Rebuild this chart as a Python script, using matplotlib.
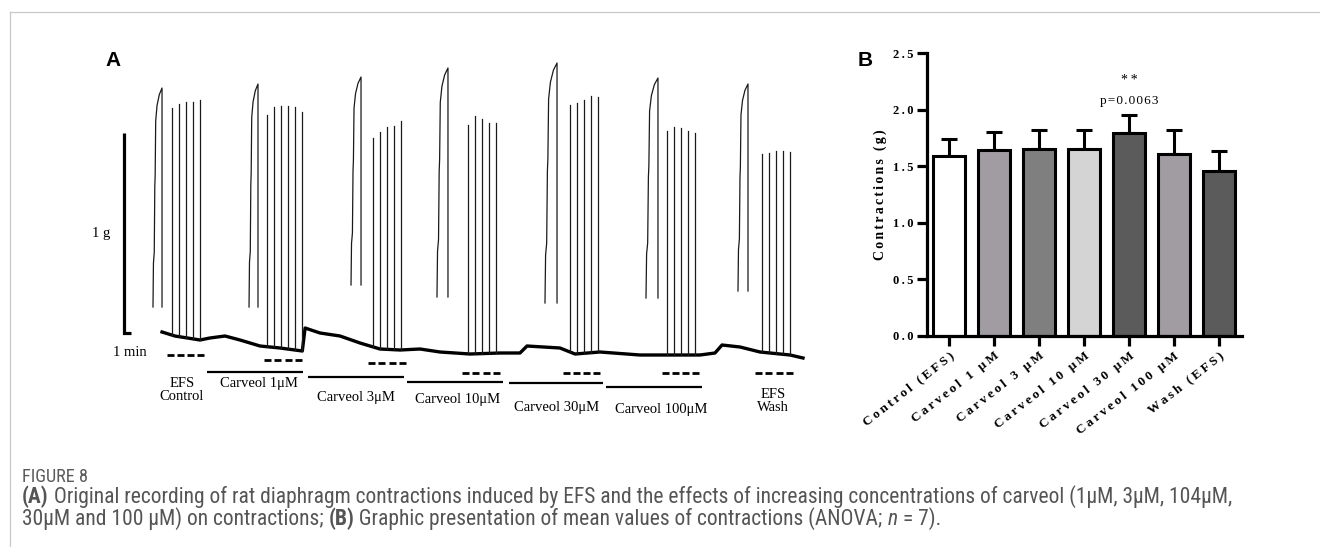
import matplotlib
matplotlib.use("Agg")
import matplotlib.pyplot as plt
import numpy as np
from matplotlib import font_manager as fm
from matplotlib.lines import Line2D

W, H = 1320, 547

# ---------------- Panel B data ----------------
groups = ["Control (EFS)", "Carveol 1 μM", "Carveol 3 μM", "Carveol 10 μM",
          "Carveol 30 μM", "Carveol 100 μM", "Wash (EFS)"]
means = [1.59, 1.64, 1.655, 1.655, 1.79, 1.61, 1.455]
sems = [0.15, 0.16, 0.165, 0.165, 0.16, 0.21, 0.175]
bar_colors = ["#ffffff", "#a09ca2", "#7f7f7f", "#d4d4d4", "#5b5b5b", "#a09ca2", "#5b5b5b"]
y_ticks = [0.0, 0.5, 1.0, 1.5, 2.0, 2.5]
y_label = "Contractions (g)"
sig_index = 4
sig_stars = "**"
sig_p = "p=0.0063"

# ---------------- Panel A data (time in min, force in g) ----------------
tet_start = [7.57, 21.29, 35.86, 48.14, 63.57, 78.0, 91.14]
tet_peak_time = [8.86, 22.57, 37.29, 49.71, 65.29, 79.71, 92.57]
tet_bottom = [0.13, 0.13, 0.24, 0.18, 0.15, 0.175, 0.21]
tet_peak = [1.225, 1.245, 1.28, 1.325, 1.35, 1.275, 1.245]
twitch_first = [10.29, 23.86, 39.0, 52.57, 67.14, 81.0, 94.57]
twitch_tops = [
    [1.125, 1.145, 1.155, 1.155, 1.165],
    [1.09, 1.13, 1.135, 1.135, 1.13, 1.105],
    [0.975, 1.005, 1.03, 1.035, 1.06],
    [1.04, 1.085, 1.07, 1.05, 1.05],
    [1.14, 1.15, 1.165, 1.185, 1.18],
    [1.01, 1.03, 1.025, 1.01, 1.0],
    [0.895, 0.9, 0.91, 0.91, 0.905],
]
base_t = [8.86, 10.7, 14.29, 15.7, 17.86, 20.0, 22.86, 25.71, 28.9, 29.3, 31.43, 34.29,
          37.14, 40.0, 42.86, 45.71, 48.57, 52.86, 57.14, 60.0, 61.0, 65.71, 67.86,
          71.43, 77.14, 85.71, 87.86, 88.86, 91.43, 94.29, 98.57, 100.43]
base_g = [0.005, -0.015, -0.035, -0.025, -0.015, -0.035, -0.065, -0.075, -0.09, 0.025,
          0.0, -0.015, -0.05, -0.08, -0.085, -0.08, -0.095, -0.105, -0.10, -0.10,
          -0.065, -0.075, -0.105, -0.095, -0.11, -0.11, -0.10, -0.06, -0.07, -0.095,
          -0.11, -0.125]
stim_start = [9.57, 23.43, 38.29, 51.71, 66.14, 80.29, 93.57]
stim_end = [14.86, 28.86, 43.71, 57.14, 71.43, 85.57, 99.0]
stim_level = [-0.11, -0.135, -0.15, -0.2, -0.2, -0.2, -0.2]
drug_start = [15.29, 29.71, 43.86, 58.43, 72.29]
drug_end = [29.0, 43.43, 57.57, 71.86, 86.0]
drug_level = [-0.195, -0.22, -0.245, -0.25, -0.27]
seg_labels = ["EFS\nControl", "Carveol 1μM", "Carveol 3μM", "Carveol 10μM",
              "Carveol 30μM", "Carveol 100μM", "EFS\nWash"]
seg_label_t = [11.71, 22.71, 36.57, 51.14, 65.29, 80.14, 96.14]
seg_label_g = [-0.285, -0.25, -0.325, -0.335, -0.375, -0.385, -0.34]
scale_g = 1.0
scale_min = 1.0

SERIF = ["Liberation Serif", "DejaVu Serif"]


def spaced(s, sep="\u200a"):
    return sep.join(s)


fig = plt.figure(figsize=(W / 100, H / 100), dpi=100)
fig.patch.set_facecolor("white")

# frame lines
fig.add_artist(Line2D([9.5 / W, 1.0], [1 - 12 / H, 1 - 12 / H], transform=fig.transFigure,
                      color="#c8c8c8", lw=0.9))
fig.add_artist(Line2D([9.5 / W, 9.5 / W], [0, 1 - 12 / H], transform=fig.transFigure,
                      color="#c8c8c8", lw=0.9))

# ---------------- Panel A ----------------
axA = fig.add_axes([100 / W, 1 - 430 / H, 720 / W, 390 / H])
axA.set_xlim(0, 720 / 7)
axA.set_ylim(-0.485, 1.465)
axA.axis("off")

axA.plot(base_t, base_g, color="black", lw=2.4, solid_joinstyle="round")

shape_x = [0, 0.05, 0.14, 0.2, 0.24, 0.3, 0.45, 0.7, 1.0, 1.0]
shape_y = [0, 0.2, 0.25, 0.55, 0.6, 0.85, 0.92, 0.97, 1.0, 0.0]
for i in range(len(tet_start)):
    dx = tet_peak_time[i] - tet_start[i]
    dy = tet_peak[i] - tet_bottom[i]
    xs = [tet_start[i] + f * dx for f in shape_x]
    ys = [tet_bottom[i] + f * dy for f in shape_y]
    axA.plot(xs, ys, color="#1a1a1a", lw=0.9)
    for k, top in enumerate(twitch_tops[i]):
        t = twitch_first[i] + k
        b = np.interp(t, base_t, base_g)
        axA.plot([t, t], [b, top], color="#1a1a1a", lw=0.9)

# stimulation dashes
for s, e, lv in zip(stim_start, stim_end, stim_level):
    n = 4
    total = e - s
    dash = total / (n + (n - 1) * 0.45)
    gap = dash * 0.45
    for k in range(n):
        x0 = s + k * (dash + gap)
        axA.plot([x0, x0 + dash], [lv, lv], color="black", lw=2.0, solid_capstyle="butt")

# drug application bars
for s, e, lv in zip(drug_start, drug_end, drug_level):
    axA.plot([s, e], [lv, lv], color="black", lw=1.6, solid_capstyle="butt")

for lab, t, g in zip(seg_labels, seg_label_t, seg_label_g):
    axA.text(t, g, lab, ha="center", va="center", fontsize=10.5, family=SERIF,
             linespacing=1.0)

# scale bar
axA.plot([3.43, 3.43, 3.43 + scale_min], [scale_g, 0, 0], color="black", lw=2.3,
         solid_joinstyle="miter", solid_capstyle="butt")
axA.text(0.2, 0.5, "1 g", ha="center", va="center", fontsize=10.5, family=SERIF,
         clip_on=False)
axA.text(4.29, -0.1, "1 min", ha="center", va="center", fontsize=10.5, family=SERIF)

fig.text(113 / W, 1 - 60 / H, "A", ha="center", va="center", fontsize=15,
         fontweight="bold", family=["Liberation Sans", "DejaVu Sans"])

# ---------------- Panel B ----------------
axB = fig.add_axes([927 / W, 1 - 336 / H, 315 / W, 283 / H])
x = np.arange(len(groups))
axB.errorbar(x, means, yerr=[np.zeros(len(sems)), sems], fmt="none", ecolor="black",
             elinewidth=2.2, capsize=6, capthick=2.2, zorder=1)
axB.bar(x, means, width=0.7, color=bar_colors, edgecolor="black", linewidth=2.2, zorder=2)
axB.set_xlim(-0.49, len(groups) - 0.49)
axB.set_ylim(0, 2.5)
for sp in ["top", "right"]:
    axB.spines[sp].set_visible(False)
for sp in ["left", "bottom"]:
    axB.spines[sp].set_linewidth(2.3)
axB.tick_params(axis="both", width=2.3, length=7, direction="out", pad=3)
axB.set_yticks(y_ticks)
axB.set_yticklabels([spaced(f"{v:.1f}", "\u2009") for v in y_ticks], fontsize=9,
                    fontweight="bold", family=SERIF)
axB.set_xticks(x)
axB.set_xticklabels([spaced(g, "\u2009") for g in groups], rotation=38, ha="right",
                    rotation_mode="anchor", fontsize=9.5, fontweight="bold", family=SERIF)
axB.set_ylabel(spaced(y_label, "\u2006"), fontsize=10, fontweight="bold", family=SERIF)
axB.yaxis.set_label_coords(-0.127, 0.5)
axB.text(sig_index, 2.254, spaced(sig_stars, "\u2009"), ha="center", va="center",
         fontsize=10, family=SERIF)
axB.text(sig_index, 2.077, spaced(sig_p), ha="center", va="center", fontsize=9.5,
         family=SERIF)

fig.text(865 / W, 1 - 60 / H, "B", ha="center", va="center", fontsize=15,
         fontweight="bold", family=["Liberation Sans", "DejaVu Sans"])


# ---------------- Caption ----------------
def pick(fams):
    for f in fams:
        try:
            fm.findfont(fm.FontProperties(family=f), fallback_to_default=False)
            return f
        except Exception:
            pass
    return "DejaVu Sans"


cap_family = pick(["Liberation Sans Narrow", "Roboto Condensed", "Open Sans Condensed", "Roboto"])
renderer = fig.canvas.get_renderer()
cap_color = "#555555"

line1 = [("(A)", dict(fontweight="bold")),
         (" Original recording of rat diaphragm contractions induced by EFS and the effects "
          "of increasing concentrations of carveol (1μM, 3μM, 104μM,", dict())]
line2 = [("30μM and 100 μM) on contractions; ", dict()),
         ("(B)", dict(fontweight="bold")),
         (" Graphic presentation of mean values of contractions (ANOVA; ", dict()),
         ("n", dict(style="italic")),
         (" = 7).", dict())]


def advance(txt, size, kw):
    t1 = fig.text(0, 0, txt + "x", fontsize=size, family=[cap_family, "DejaVu Sans"], **kw)
    t2 = fig.text(0, 0, "x", fontsize=size, family=[cap_family, "DejaVu Sans"], **kw)
    w = t1.get_window_extent(renderer).width - t2.get_window_extent(renderer).width
    t1.remove()
    t2.remove()
    return w


def line_width(pieces, size):
    return sum(advance(t, size, kw) for t, kw in pieces)


base = 10.0
size = base * 1208 / line_width(line1, base)


def draw_line(pieces, x_px, y_px, size):
    xx = x_px
    for txt, kw in pieces:
        fig.text(xx / W, 1 - y_px / H, txt, fontsize=size, color=cap_color,
                 family=[cap_family, "DejaVu Sans"], ha="left", va="baseline", **kw)
        xx += advance(txt, size, kw)


fig.text(22 / W, 1 - 482 / H, "FIGURE 8", fontsize=size * 0.85, color="#5a5a5a",
         family=[cap_family, "DejaVu Sans"], ha="left", va="baseline")
draw_line(line1, 22, 503, size)
draw_line(line2, 22, 525, size)

fig.savefig("out.png", dpi=100, facecolor="white")
